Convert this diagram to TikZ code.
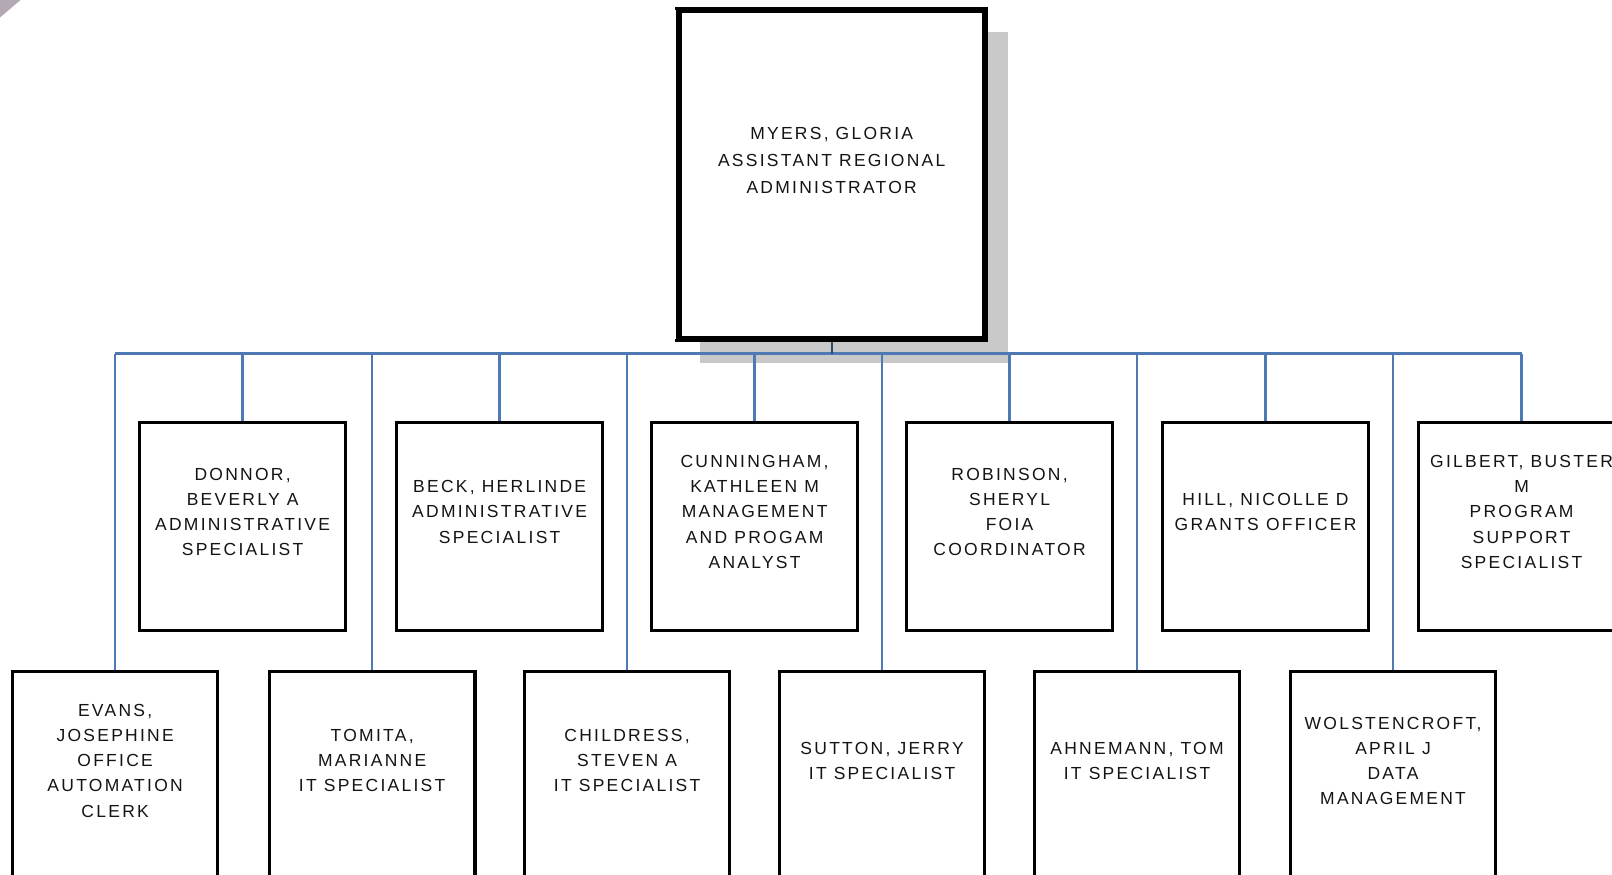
\documentclass[tikz,border=0pt]{standalone}
\usepackage{fontspec}
\newfontfamily\boxfont[LetterSpace=13]{Liberation Sans}
\definecolor{busblue}{RGB}{79,121,181}
\definecolor{shadowgray}{RGB}{200,200,200}
\definecolor{txt}{RGB}{20,20,20}
\begin{document}
\begin{tikzpicture}[x=1pt,y=-1pt,
  box/.style={draw=black,line width=3pt,fill=white,minimum width=200pt,inner sep=0pt},
  upbox/.style={box,minimum height=202pt},
  lowbox/.style={box,minimum height=220pt},
  lbl/.style={align=center,font=\boxfont\fontsize{17}{24.5}\selectfont,text=txt,inner sep=0pt},
  conn/.style={draw=busblue,line width=2.6pt},
]
\useasboundingbox (0,0) rectangle (1568,851);
\clip (0,0) rectangle (1568,851);
\fill[white] (0,0) rectangle (1568,851);
% corner graphic fragment
\fill[black!45!violet!35!gray,opacity=0.5] (0,0) -- (20,0) -- (0,17) -- cycle;

% top box with shadow
\fill[shadowgray] (681,31) rectangle (980,353);
\node[draw=black,line width=6pt,fill=white,minimum width=298pt,minimum height=320pt,inner sep=0pt] (myers) at (809,170) {};
\draw[white,line width=1.2pt] ([xshift=0.4pt,yshift=-3pt]myers.north west) -- ([xshift=0.4pt,yshift=3pt]myers.south west);
\node[lbl,font=\boxfont\fontsize{17}{26}\selectfont] (myerst) at (809,156) {MYERS, GLORIA\\ASSISTANT REGIONAL\\ADMINISTRATOR};

% bus
\coordinate (busL) at (112,344);
\coordinate (busR) at (1480,344);
\draw[conn] (busL) -- (busR);
\draw[draw=busblue!60!black,line width=2pt] (myers.south) -- (myers.south |- busL);

% upper row
\node[upbox] (donnor) at (236,512) {};
\node[upbox] (beck) at (486,512) {};
\node[upbox] (cunn) at (734,512) {};
\node[upbox] (robin) at (982,512) {};
\node[upbox] (hill) at (1231,512) {};
\node[upbox] (gilbert) at (1480,512) {};
\node[lbl] (donnort) at (236,498) {DONNOR,\\BEVERLY A\\ADMINISTRATIVE\\SPECIALIST};
\node[lbl] (beckt) at (486,498) {BECK, HERLINDE\\ADMINISTRATIVE\\SPECIALIST};
\node[lbl] (cunnt) at (734,498) {CUNNINGHAM,\\KATHLEEN M\\MANAGEMENT\\AND PROGAM\\ANALYST};
\node[lbl] (robint) at (982,498) {ROBINSON,\\SHERYL\\FOIA\\COORDINATOR};
\node[lbl] (hillt) at (1231,498) {HILL, NICOLLE D\\GRANTS OFFICER};
\node[lbl] (gilbertt) at (1480,498) {GILBERT, BUSTER\\M\\PROGRAM\\SUPPORT\\SPECIALIST};

% lower row
\node[lowbox] (evans) at (112,763) {};
\node[lowbox] (tomita) at (362,763) {};
\node[lowbox] (child) at (610,763) {};
\node[lowbox] (sutton) at (858,763) {};
\node[lowbox] (ahne) at (1106,763) {};
\node[lowbox] (wolst) at (1355,763) {};
\node[lbl] (evanst) at (112,740) {EVANS,\\JOSEPHINE\\OFFICE\\AUTOMATION\\CLERK};
\node[lbl] (tomitat) at (362,740) {TOMITA,\\MARIANNE\\IT SPECIALIST};
\node[lbl] (childt) at (610,740) {CHILDRESS,\\STEVEN A\\IT SPECIALIST};
\node[lbl] (suttont) at (858,740) {SUTTON, JERRY\\IT SPECIALIST};
\node[lbl] (ahnet) at (1106,740) {AHNEMANN, TOM\\IT SPECIALIST};
\node[lbl] (wolstt) at (1355,740) {WOLSTENCROFT,\\APRIL J\\DATA\\MANAGEMENT};

% connectors
\foreach \n in {donnor,beck,cunn,robin,hill,gilbert,evans,tomita,child,sutton,ahne,wolst}
  \draw[conn] (\n.north |- busL) -- (\n.north);
\end{tikzpicture}
\end{document}
